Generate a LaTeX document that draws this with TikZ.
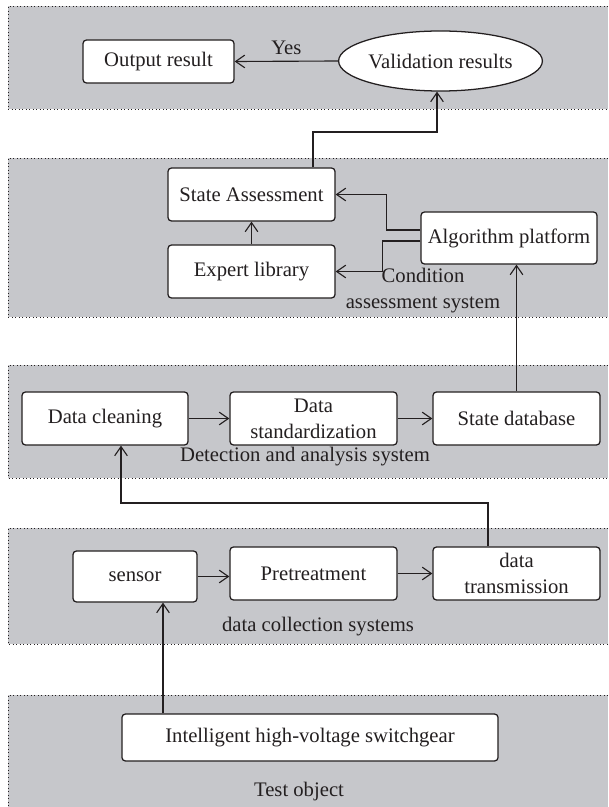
\documentclass[tikz,border=0pt]{standalone}
\usepackage{fontspec}
\setmainfont{Liberation Serif}
\usepackage{xcolor}
\usetikzlibrary{shapes.geometric,arrows.meta}
\definecolor{ink}{HTML}{231F20}
\definecolor{band}{RGB}{198,199,203}
\tikzset{
    box/.style={draw=ink,fill=white,rounded corners=2.5pt,line width=0.9pt,inner sep=1pt,align=center},
    arr/.style={draw=ink,line width=0.8pt,-{Straight Barb[length=6.5pt,width=9pt]}},
    edge/.style={draw=ink,dash pattern=on 0.6pt off 1.9pt,line width=0.6pt}
}
\begin{document}
\begin{tikzpicture}[x=0.025cm,y=-0.025cm,font=\fontsize{14.7pt}{18.5pt}\selectfont,text=ink]
        \useasboundingbox (0,0) rectangle (608,807);
        \fill[band] (8,6) rectangle (608,109);
        \draw[edge] (608,6) -- (8,6) -- (8,109) -- (608,109);
        \fill[band] (8,158) rectangle (608,317);
        \draw[edge] (608,158) -- (8,158) -- (8,317) -- (608,317);
        \fill[band] (8,365) rectangle (608,478);
        \draw[edge] (608,365) -- (8,365) -- (8,478) -- (608,478);
        \fill[band] (8,528) rectangle (608,644);
        \draw[edge] (608,528) -- (8,528) -- (8,644) -- (608,644);
        \fill[band] (8,695) rectangle (608,807);
        \draw[edge] (608,695) -- (8,695) -- (8,807);

        \node[box,minimum width=3.775cm,minimum height=1.075cm] (out) at (158.5,61.5) {Output result};
        \node[box,ellipse,minimum width=4.725cm,minimum height=1.5cm,inner sep=0pt] (valid) at (440.5,61) {Validation results};
        \draw[arr] (valid.west) -- node[above=1pt] {Yes} (out.east);

        \node[box,minimum width=4.175cm,minimum height=1.325cm] (stateA) at (251.5,194.5) {State Assessment};
        \node[box,minimum width=4.175cm,minimum height=1.325cm] (expert) at (251.5,271.5) {Expert library};
        \node[box,minimum width=4.4cm,minimum height=1.3cm] (algo) at (509,238) {Algorithm platform};
        \node[align=center] (condsys) at (423,291) {Condition\\assessment system};
        \draw[arr] (expert.north) -- (stateA.south);
        \draw[arr] ([yshift=0.2cm]algo.west) -- ++(-34,0) |- (stateA.east);
        \draw[arr] ([yshift=-0.075cm]algo.west) -- ++(-38,0) |- (expert.east);
        \coordinate (v1) at (313,132);
        \coordinate (v2) at (437,132);
        \draw[arr] (stateA.north -| v1) -- (v1) -- (v2) -- (v2 |- valid.south);

        \node[box,minimum width=4.15cm,minimum height=1.325cm] (clean) at (105,418.5) {Data cleaning};
        \node[box,minimum width=4.175cm,minimum height=1.325cm] (stdz) at (313.5,418.5) {Data\\standardization};
        \node[box,minimum width=4.175cm,minimum height=1.325cm] (sdb) at (516.5,418.5) {State database};
        \node (detsys) at (305,457) {Detection and analysis system};
        \draw[arr] (clean.east) -- (stdz.west);
        \draw[arr] (stdz.east) -- (sdb.west);
        \draw[arr] (sdb.north) -- (sdb.north |- algo.south);

        \node[box,minimum width=3.1cm,minimum height=1.275cm] (sensor) at (135,576.5) {sensor};
        \node[box,minimum width=4.175cm,minimum height=1.325cm] (pre) at (313.5,573.5) {Pretreatment};
        \node[box,minimum width=4.175cm,minimum height=1.325cm] (trans) at (516.5,573.5) {data\\transmission};
        \node (colsys) at (318,627) {data collection systems};
        \draw[arr] (sensor.east) -- (sensor.east -| pre.west);
        \draw[arr] (pre.east) -- (trans.west);
        \coordinate (t1) at (488,503);
        \coordinate (t2) at (121,503);
        \draw[arr] (trans.north -| t1) -- (t1) -- (t2) -- (t2 |- clean.south);

        \node[box,minimum width=9.4cm,minimum height=1.175cm] (igear) at (310,737.5) {Intelligent high-voltage switchgear};
        \node (testobj) at (299,792) {Test object};
        \coordinate (g1) at (163,700);
        \draw[arr] (igear.north -| g1) -- (g1 |- sensor.south);
    \end{tikzpicture}
\end{document}
